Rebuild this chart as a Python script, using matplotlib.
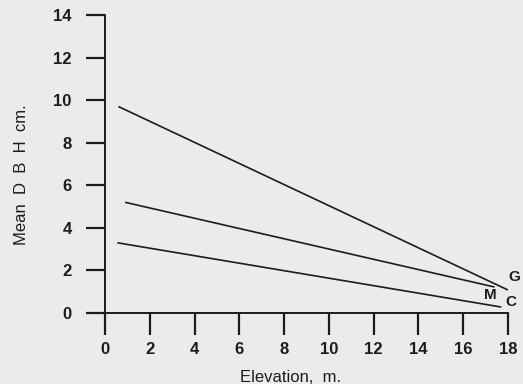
import matplotlib.pyplot as plt

# 海拔 (m) 与平均胸径 (cm) —— 三条直线的端点
g_elev = [0.6, 18.0]
g_dbh = [9.7, 1.08]
m_elev = [0.9, 17.4]
m_dbh = [5.2, 1.22]
c_elev = [0.55, 17.7]
c_dbh = [3.3, 0.28]

x_ticks = [0, 2, 4, 6, 8, 10, 12, 14, 16, 18]
y_ticks = [0, 2, 4, 6, 8, 10, 12, 14]

bg = '#ebebec'
ink = '#1c1c1c'

plt.rcParams['font.family'] = ['Liberation Sans', 'DejaVu Sans']

fig = plt.figure(figsize=(5.23, 3.84), dpi=100, facecolor=bg)
ax = fig.add_axes([105 / 523, 71 / 384, 403 / 523, 298 / 384])
ax.set_facecolor(bg)

for xs, ys in [(g_elev, g_dbh), (m_elev, m_dbh), (c_elev, c_dbh)]:
    ax.plot(xs, ys, color=ink, lw=1.2, solid_capstyle='butt')

ax.text(18.3, 1.7, 'G', ha='center', va='center', fontsize=11, fontweight='bold', color=ink, clip_on=False)
ax.text(17.2, 0.85, 'M', ha='center', va='center', fontsize=11, fontweight='bold', color=ink, clip_on=False)
ax.text(18.15, 0.5, 'C', ha='center', va='center', fontsize=11, fontweight='bold', color=ink, clip_on=False)

ax.set_xlim(0, 18)
ax.set_ylim(0, 14)
ax.set_xticks(x_ticks)
ax.set_yticks(y_ticks)
ax.spines['top'].set_visible(False)
ax.spines['right'].set_visible(False)
for s in ['left', 'bottom']:
    ax.spines[s].set_color(ink)
    ax.spines[s].set_linewidth(1.4)
ax.tick_params(axis='y', direction='out', length=14, width=1.6, pad=10, colors=ink,
               labelsize=12)
ax.tick_params(axis='x', direction='out', length=16, width=1.6, pad=5, colors=ink,
               labelsize=12)
for lab in ax.get_xticklabels() + ax.get_yticklabels():
    lab.set_fontweight('bold')

ax.set_xlabel('Elevation,  m.', fontsize=12, color=ink, va='center')
ax.set_ylabel('Mean  D  B  H  cm.', fontsize=12, color=ink, va='center')
ax.xaxis.set_label_coords(0.4615, -0.215)
ax.yaxis.set_label_coords(-0.206, 0.463)

fig.savefig('out.png', dpi=100, facecolor=bg)
